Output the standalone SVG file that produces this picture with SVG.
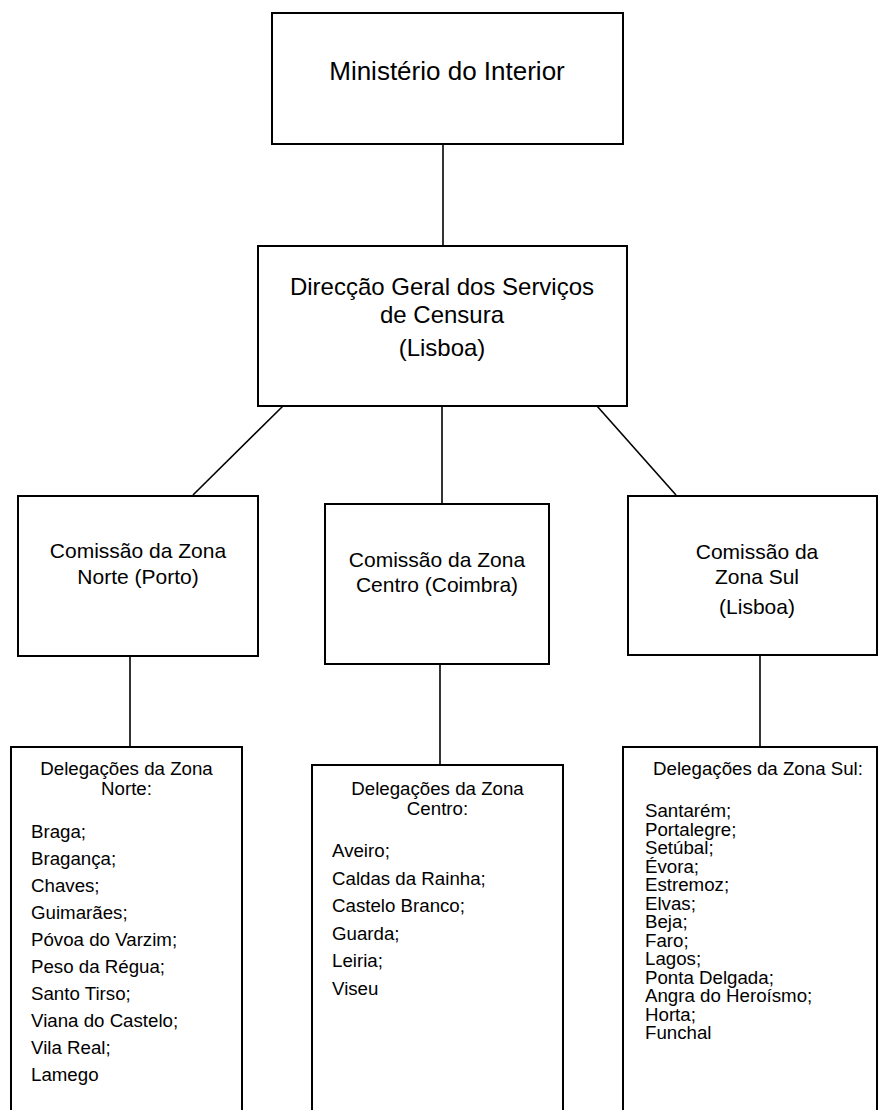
<svg xmlns="http://www.w3.org/2000/svg" width="879" height="1110" viewBox="0 0 879 1110">
<style>
  .box { fill: #ffffff; stroke: #000000; stroke-width: 2; }
  .conn { stroke: #000000; stroke-width: 1.6; fill: none; }
  text { font-family: "Liberation Sans", Arial, sans-serif; fill: #000000; }
  .t1 { font-size: 26px; text-anchor: middle; }
  .t2 { font-size: 24px; text-anchor: middle; }
  .t3 { font-size: 21px; text-anchor: middle; }
  .tt { font-size: 18.7px; text-anchor: middle; }
  .li { font-size: 18.7px; }
</style>
<rect width="879" height="1110" fill="#ffffff"/>
<g id="connectors">
  <line class="conn" x1="443" y1="144" x2="443" y2="246"/>
  <line class="conn" x1="283" y1="406" x2="193" y2="495"/>
  <line class="conn" x1="442" y1="406" x2="442" y2="504"/>
  <line class="conn" x1="597" y1="406" x2="676" y2="495"/>
  <line class="conn" x1="130" y1="656" x2="130" y2="747"/>
  <line class="conn" x1="440" y1="664" x2="440" y2="765"/>
  <line class="conn" x1="760" y1="655" x2="760" y2="747"/>
</g>
<g id="ministerio">
  <rect class="box" x="272" y="13" width="351" height="131"/>
  <text class="t1" x="447" y="80">Ministério do Interior</text>
</g>
<g id="direccao">
  <rect class="box" x="258" y="246" width="369" height="160"/>
  <text class="t2" x="442" y="295">Direcção Geral dos Serviços</text>
  <text class="t2" x="442" y="323">de Censura</text>
  <text class="t2" x="442" y="356">(Lisboa)</text>
</g>
<g id="comissao-norte">
  <rect class="box" x="18" y="496" width="240" height="160"/>
  <text class="t3" x="138" y="558">Comissão da Zona</text>
  <text class="t3" x="138" y="584">Norte (Porto)</text>
</g>
<g id="comissao-centro">
  <rect class="box" x="325" y="504" width="224" height="160"/>
  <text class="t3" x="437" y="567">Comissão da Zona</text>
  <text class="t3" x="437" y="592">Centro (Coimbra)</text>
</g>
<g id="comissao-sul">
  <rect class="box" x="628" y="496" width="249" height="159"/>
  <text class="t3" x="757" y="559">Comissão da</text>
  <text class="t3" x="757" y="584">Zona Sul</text>
  <text class="t3" x="757" y="614">(Lisboa)</text>
</g>
<g id="delegacoes-norte">
  <rect class="box" x="11" y="747" width="231" height="380"/>
  <text class="tt" x="126.5" y="775">Delegações da Zona</text>
  <text class="tt" x="126.5" y="795">Norte:</text>
  <text class="li" x="31" y="838">Braga;</text>
  <text class="li" x="31" y="865">Bragança;</text>
  <text class="li" x="31" y="892">Chaves;</text>
  <text class="li" x="31" y="919">Guimarães;</text>
  <text class="li" x="31" y="946">Póvoa do Varzim;</text>
  <text class="li" x="31" y="973">Peso da Régua;</text>
  <text class="li" x="31" y="1000">Santo Tirso;</text>
  <text class="li" x="31" y="1027">Viana do Castelo;</text>
  <text class="li" x="31" y="1054">Vila Real;</text>
  <text class="li" x="31" y="1081">Lamego</text>
</g>
<g id="delegacoes-centro">
  <rect class="box" x="312" y="765" width="251" height="370"/>
  <text class="tt" x="437.5" y="795">Delegações da Zona</text>
  <text class="tt" x="437.5" y="815">Centro:</text>
  <text class="li" x="332" y="857">Aveiro;</text>
  <text class="li" x="332" y="884.5">Caldas da Rainha;</text>
  <text class="li" x="332" y="912">Castelo Branco;</text>
  <text class="li" x="332" y="939.5">Guarda;</text>
  <text class="li" x="332" y="967">Leiria;</text>
  <text class="li" x="332" y="994.5">Viseu</text>
</g>
<g id="delegacoes-sul">
  <rect class="box" x="623" y="747" width="254" height="380"/>
  <text class="tt" x="758" y="775">Delegações da Zona Sul:</text>
  <text class="li" x="645" y="817">Santarém;</text>
  <text class="li" x="645" y="835.5">Portalegre;</text>
  <text class="li" x="645" y="854">Setúbal;</text>
  <text class="li" x="645" y="872.5">Évora;</text>
  <text class="li" x="645" y="891">Estremoz;</text>
  <text class="li" x="645" y="909.5">Elvas;</text>
  <text class="li" x="645" y="928">Beja;</text>
  <text class="li" x="645" y="946.5">Faro;</text>
  <text class="li" x="645" y="965">Lagos;</text>
  <text class="li" x="645" y="983.5">Ponta Delgada;</text>
  <text class="li" x="645" y="1002">Angra do Heroísmo;</text>
  <text class="li" x="645" y="1020.5">Horta;</text>
  <text class="li" x="645" y="1039">Funchal</text>
</g>
</svg>
